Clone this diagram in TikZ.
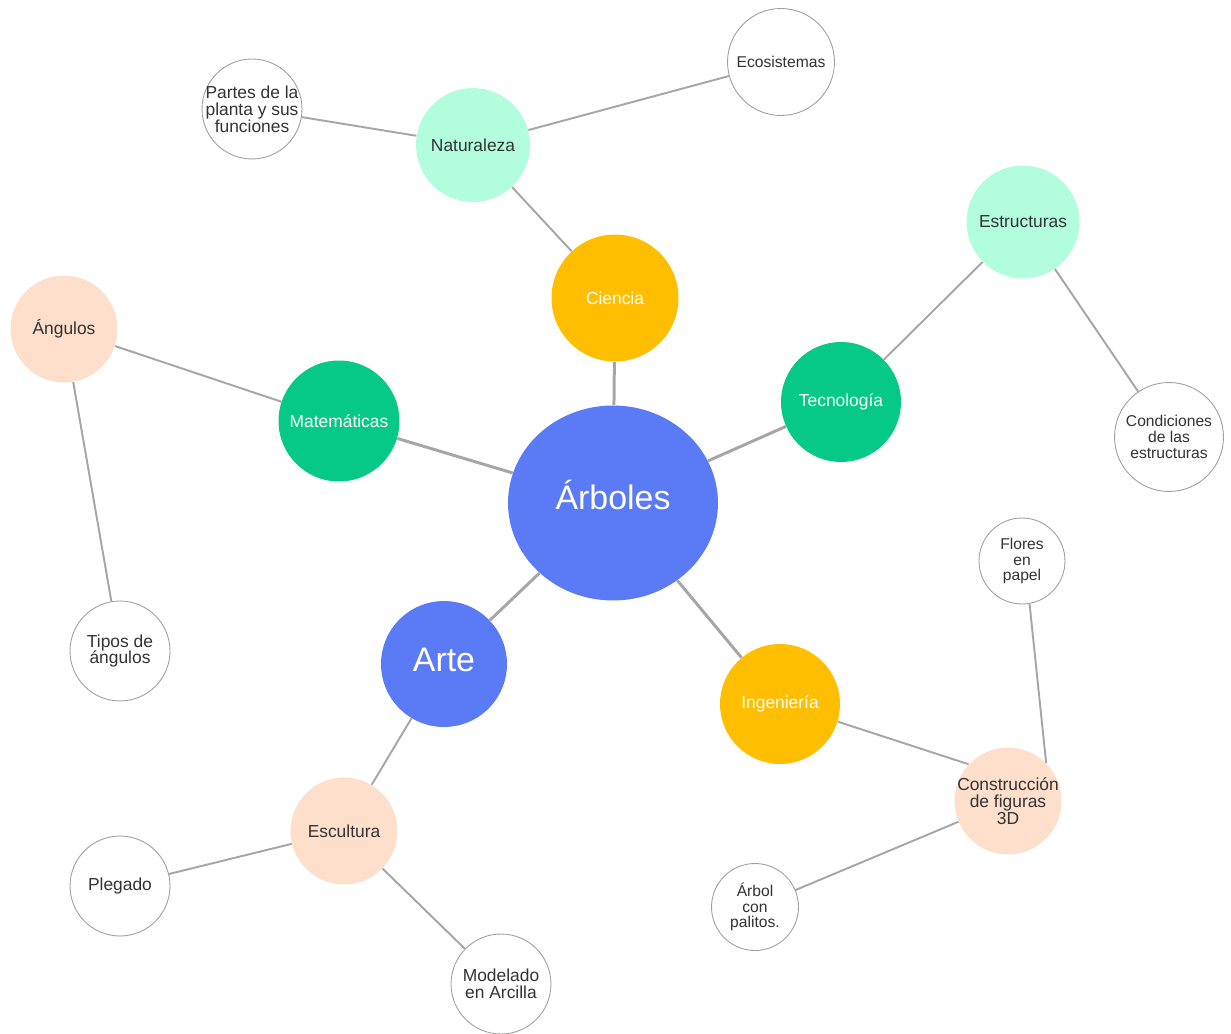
\documentclass[tikz,border=0pt]{standalone}
\usepackage{fontspec}
\setmainfont{Liberation Sans}
\usepackage{xcolor}
\usetikzlibrary{shapes.geometric}

\definecolor{azul}{HTML}{5B7BF6}
\definecolor{ambar}{HTML}{FFBF00}
\definecolor{verde}{HTML}{07C987}
\definecolor{menta}{HTML}{B3FDDF}
\definecolor{melocoton}{HTML}{FDDFCC}
\definecolor{linea}{HTML}{A6A6A6}
\definecolor{texto}{HTML}{333333}

\begin{document}
\begin{tikzpicture}[x=0.02cm, y=-0.02cm,
	bubble/.style={circle, inner sep=0pt, align=center},
	centro/.style={bubble, fill=azul, text=white, font=\fontsize{19.3}{22}\selectfont},
	rama/.style={bubble, text=white, font=\fontsize{9.9}{11}\selectfont},
	sub/.style={bubble, text=texto, font=\fontsize{9.9}{11}\selectfont},
	hoja/.style={bubble, draw=gray!75, line width=0.5pt, fill=white, text=texto, font=\fontsize{8.9}{8.9}\selectfont},
	hojagrande/.style={hoja, font=\fontsize{9.9}{9.6}\selectfont},
	main/.style={draw=linea, line width=1.7pt},
	link/.style={draw=linea, line width=1.1pt}]
		\useasboundingbox (0,0) rectangle (1231,1034);
		
		% Center
		\node[centro, ellipse, text depth=9pt, minimum width=4.2cm, minimum height=3.9cm] (arboles) at (613,503) {Árboles};
		
		% First ring
		\node[rama, fill=ambar, minimum size=2.54cm] (ciencia) at (615,298) {Ciencia};
		\node[rama, fill=verde, minimum size=2.4cm] (tecnologia) at (841,402) {Tecnología};
		\node[rama, fill=verde, minimum size=2.42cm] (matematicas) at (339,421) {Matemáticas};
		\node[centro, text depth=4.5pt, minimum size=2.52cm] (arte) at (444,664) {Arte};
		\node[rama, fill=ambar, minimum size=2.4cm] (ingenieria) at (780,704) {Ingeniería};
		
		% Second ring
		\node[sub, fill=menta, minimum size=2.28cm] (naturaleza) at (473,145) {Naturaleza};
		\node[sub, fill=menta, minimum size=2.26cm] (estructuras) at (1023,222) {Estructuras};
		\node[sub, fill=melocoton, minimum size=2.14cm] (angulos) at (64,329) {Ángulos};
		\node[sub, fill=melocoton, minimum size=2.14cm] (escultura) at (344,831) {Escultura};
		\node[hojagrande, draw=none, fill=melocoton, inner sep=-4pt, minimum size=2.14cm] (construccion) at (1008,801) {Construcción\\de figuras\\3D};
		
		% Leaves
		\node[hoja, minimum size=2.14cm] (ecosistemas) at (781,62) {Ecosistemas};
		\node[hojagrande, inner sep=-4pt, minimum size=2.0cm] (partes) at (252,109) {Partes de la\\planta y sus\\funciones};
		\node[hoja, minimum size=2.18cm] (condiciones) at (1169,437) {Condiciones\\de las\\estructuras};
		\node[hojagrande, minimum size=2.0cm] (tipos) at (120,651) {Tipos de\\ángulos};
		\node[hojagrande, minimum size=2.0cm] (plegado) at (120,886) {Plegado};
		\node[hojagrande, minimum size=2.0cm] (modelado) at (501,984) {Modelado\\en Arcilla};
		\node[hoja, minimum size=1.72cm] (flores) at (1022,561) {Flores\\en\\papel};
		\node[hoja, minimum size=1.74cm] (palitos) at (755,907) {Árbol\\con\\palitos.};
		
		% Main branches
		\draw[main] (arboles) -- (ciencia);
		\draw[main] (arboles) -- (tecnologia);
		\draw[main] (arboles) -- (matematicas);
		\draw[main] (arboles) -- (arte);
		\draw[main] (arboles) -- (ingenieria);
		
		% Sub branches
		\draw[link] (ciencia) -- (naturaleza);
		\draw[link] (naturaleza) -- (ecosistemas);
		\draw[link] (naturaleza) -- (partes);
		\draw[link] (tecnologia) -- (estructuras);
		\draw[link] (estructuras) -- (condiciones);
		\draw[link] (matematicas) -- (angulos);
		\draw[link] (angulos) -- (tipos);
		\draw[link] (arte) -- (escultura);
		\draw[link] (escultura) -- (plegado);
		\draw[link] (escultura) -- (modelado);
		\draw[link] (ingenieria.-17) -- (construccion.137);
		\draw[link] (flores.-80) -- (construccion.45);
		\draw[link] (palitos) -- (construccion);
	\end{tikzpicture}
\end{document}
